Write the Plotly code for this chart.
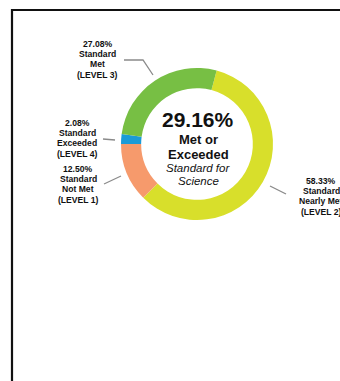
import plotly.graph_objects as go

W, H = 340, 381

# slice data, in drawing order (clockwise)
levels = ["Standard Nearly Met (LEVEL 2)", "Standard Not Met (LEVEL 1)",
          "Standard Exceeded (LEVEL 4)", "Standard Met (LEVEL 3)"]
percents = [58.33, 12.50, 2.08, 27.08]
colors = ["#D8DF2B", "#F69A6C", "#1B9BD7", "#77BF44"]
label_lines = [["58.33%", "Standard", "Nearly Met", "(LEVEL 2)"],
               ["12.50%", "Standard", "Not Met", "(LEVEL 1)"],
               ["2.08%", "Standard", "Exceeded", "(LEVEL 4)"],
               ["27.08%", "Standard", "Met", "(LEVEL 3)"]]
met_or_exceeded = "29.16%"


def px_x(x):
    return x / W


def px_y(y):
    return 1 - y / H


fig = go.Figure(go.Pie(
    labels=levels, values=percents, sort=False, direction="clockwise",
    rotation=15, hole=0.735, textinfo="none", hoverinfo="label+value",
    marker=dict(colors=colors, line=dict(width=0)),
    domain=dict(x=[px_x(121), px_x(273)], y=[px_y(220), px_y(68)]),
    showlegend=False,
))

font = dict(family="Liberation Sans, Arial, sans-serif", color="#111111")


def note(x, y, text, size):
    fig.add_annotation(x=px_x(x), y=px_y(y), xref="paper", yref="paper",
                       xanchor="center", yanchor="middle", text=text,
                       showarrow=False, align="center",
                       font=dict(size=size, **font))


# outside labels (centre x, first line y in pixels) and leader lines
label_pos = [(321, 181), (78, 169), (77, 123), (98, 44)]
leaders = [
    [(270, 186), (286, 194)],
    [(104, 184), (121, 176)],
    [(103, 139), (115, 140)],
    [(124, 60), (143, 60), (153, 75)],
]
for lines, (x, y) in zip(label_lines, label_pos):
    for i, ln in enumerate(lines):
        note(x, y + i * 10.2, "<b>" + ln + "</b>", 8.6)
for pts in leaders:
    path = "M " + " L ".join(f"{px_x(a)},{px_y(b)}" for a, b in pts)
    fig.add_shape(type="path", path=path, xref="paper", yref="paper",
                  line=dict(color="#8A8A8A", width=1.3))

# centre text
note(198, 119, "<b>" + met_or_exceeded + "</b>", 21)
note(198, 140, "<b>Met or</b>", 13)
note(198, 154, "<b>Exceeded</b>", 13)
note(198, 168, "<i>Standard for</i>", 11.5)
note(198, 181, "<i>Science</i>", 11.5)

# card border, cropped at right and bottom
fig.add_shape(type="rect", xref="paper", yref="paper",
              x0=px_x(12), y0=px_y(420), x1=px_x(380), y1=px_y(10),
              line=dict(color="#111111", width=2.2))

fig.update_layout(width=W, height=H, margin=dict(l=0, r=0, t=0, b=0),
                  paper_bgcolor="white", plot_bgcolor="white")
# drop the default body margin so the figure fills the window
fig.write_html("out.html", config={"displayModeBar": False}, post_script=(
    "document.body.style.margin='0';"
    "document.body.style.overflow='hidden';"))
